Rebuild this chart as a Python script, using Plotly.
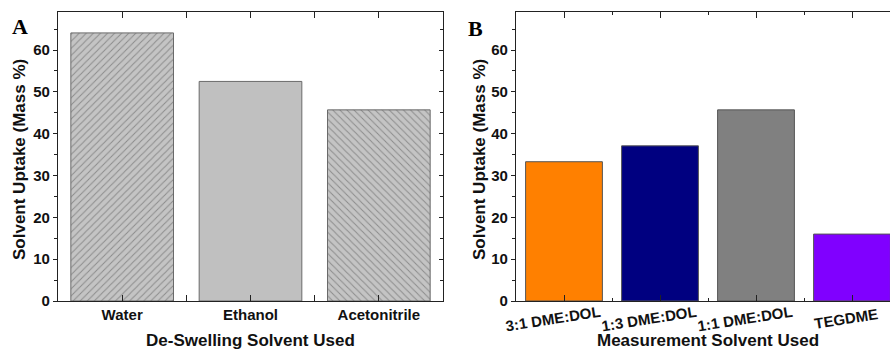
import plotly.graph_objects as go

# Panel A data
cats_a = ["Water", "Ethanol", "Acetonitrile"]
vals_a = [64.1, 52.5, 45.7]
# Panel B data
cats_b = ["3:1 DME:DOL", "1:3 DME:DOL", "1:1 DME:DOL", "TEGDME"]
vals_b = [33.3, 37.1, 45.7, 16.0]
colors_b = ["#FF8000", "#000080", "#808080", "#8000FF"]

W, H = 890, 350
FONT = "Liberation Sans, Arial, sans-serif"
AX = "#222222"

def px_x(p):
    return p / W

def px_y(p):
    return 1 - p / H

ydom = [px_y(301), px_y(12)]
yr = [0, 69.1]

fig = go.Figure()

fig.add_trace(go.Bar(
    x=list(range(len(cats_a))), y=vals_a, width=0.8,
    marker=dict(
        color="#C0C0C0",
        line=dict(color="#6a6a6a", width=1),
        pattern=dict(shape=["/", "", "\\"], fgcolor="#555555", bgcolor="#C4C4C4",
                     size=5, solidity=0.2, fillmode="overlay"),
    ),
    xaxis="x", yaxis="y", showlegend=False,
))

fig.add_trace(go.Scatter(x=[], y=[], xaxis="x", yaxis="y3", showlegend=False))

fig.add_trace(go.Bar(
    x=list(range(len(cats_b))), y=vals_b, width=0.8,
    marker=dict(color=colors_b, line=dict(color="#555555", width=1)),
    xaxis="x2", yaxis="y2", showlegend=False,
))

tickfont = dict(family=FONT, size=15, color="#111111", weight="bold")
titlefont = dict(family=FONT, size=17, color="#111111", weight="bold")

common_x = dict(
    showline=True, linecolor=AX, linewidth=1.3, mirror="allticks",
    ticks="inside", ticklen=6, tickcolor=AX, tickwidth=1.3,
    showgrid=False, zeroline=False, tickfont=tickfont,
    tickmode="array", automargin=False,
)
common_y = dict(
    range=yr, domain=ydom, showline=True, linecolor=AX, linewidth=1.3,
    ticks="outside", ticklen=4, tickcolor=AX, tickwidth=1.3,
    dtick=10, tick0=0, showgrid=False, zeroline=False, tickfont=tickfont,
    automargin=False,
    minor=dict(dtick=5, ticks="outside", ticklen=3, tickcolor=AX, tickwidth=1.3, showgrid=False),
)

xa_l, xa_r = px_x(58), px_x(443)
xb_l, xb_r = px_x(516), 1.0
xb_max = -0.5 + (890 - 516) / 96.0

fig.update_layout(
    width=W, height=H,
    margin=dict(l=0, r=0, t=0, b=0, pad=0, autoexpand=False),
    paper_bgcolor="white", plot_bgcolor="white",
    bargap=0.2,
    xaxis=dict(common_x, domain=[xa_l, xa_r], range=[-0.5, 2.5],
               tickvals=list(range(len(cats_a))), ticktext=cats_a, anchor="y",
               minor=dict(tickvals=[0.5, 1.5], ticks="inside", ticklen=3, tickcolor=AX, tickwidth=1.3, showgrid=False)),
    yaxis=dict(common_y, anchor="x"),
    yaxis3=dict(range=yr, overlaying="y", side="right", anchor="x", showline=True, linecolor=AX, linewidth=1.3,
                ticks="inside", ticklen=4, tickcolor=AX, tickwidth=1.3, dtick=10, tick0=0,
                showticklabels=False, showgrid=False, zeroline=False, automargin=False,
                minor=dict(dtick=5, ticks="inside", ticklen=3, tickcolor=AX, tickwidth=1.3, showgrid=False)),
    xaxis2=dict(common_x, domain=[xb_l, xb_r], range=[-0.5, xb_max],
                tickvals=list(range(len(cats_b))), ticktext=cats_b, anchor="y2",
                showticklabels=False,
                minor=dict(tickvals=[0.5, 1.5, 2.5], ticks="inside", ticklen=3, tickcolor=AX, tickwidth=1.3, showgrid=False)),
    yaxis2=dict(common_y, anchor="x2"),
)

ann = []
# rotated category labels for panel B, placed at the axis category positions
for i, c in enumerate(cats_b):
    ann.append(dict(text=c, x=i, xref="x2", y=px_y(318), yref="paper", xshift=-11 if i < 3 else -6,
                    showarrow=False, font=tickfont, textangle=-9, xanchor="center", yanchor="middle"))
ann.append(dict(text="De-Swelling Solvent Used", x=px_x(250), y=px_y(340), xref="paper", yref="paper",
                showarrow=False, font=titlefont, xanchor="center", yanchor="middle"))
ann.append(dict(text="Measurement Solvent Used", x=px_x(708), y=px_y(340), xref="paper", yref="paper",
                showarrow=False, font=titlefont, xanchor="center", yanchor="middle"))
ann.append(dict(text="Solvent Uptake (Mass %)", x=px_x(20), y=px_y(160), xref="paper", yref="paper",
                showarrow=False, font=titlefont, textangle=-90, xanchor="center", yanchor="middle"))
ann.append(dict(text="Solvent Uptake (Mass %)", x=px_x(480), y=px_y(160), xref="paper", yref="paper",
                showarrow=False, font=titlefont, textangle=-90, xanchor="center", yanchor="middle"))
ann.append(dict(text="A", x=px_x(20), y=px_y(26), xref="paper", yref="paper", showarrow=False,
                font=dict(family="Liberation Serif, Times New Roman, serif", size=22, color="black", weight="bold"),
                xanchor="center", yanchor="middle"))
ann.append(dict(text="B", x=px_x(475), y=px_y(29), xref="paper", yref="paper", showarrow=False,
                font=dict(family="Liberation Serif, Times New Roman, serif", size=22, color="black", weight="bold"),
                xanchor="center", yanchor="middle"))
fig.update_layout(annotations=ann)

fig.write_html("out.html")
